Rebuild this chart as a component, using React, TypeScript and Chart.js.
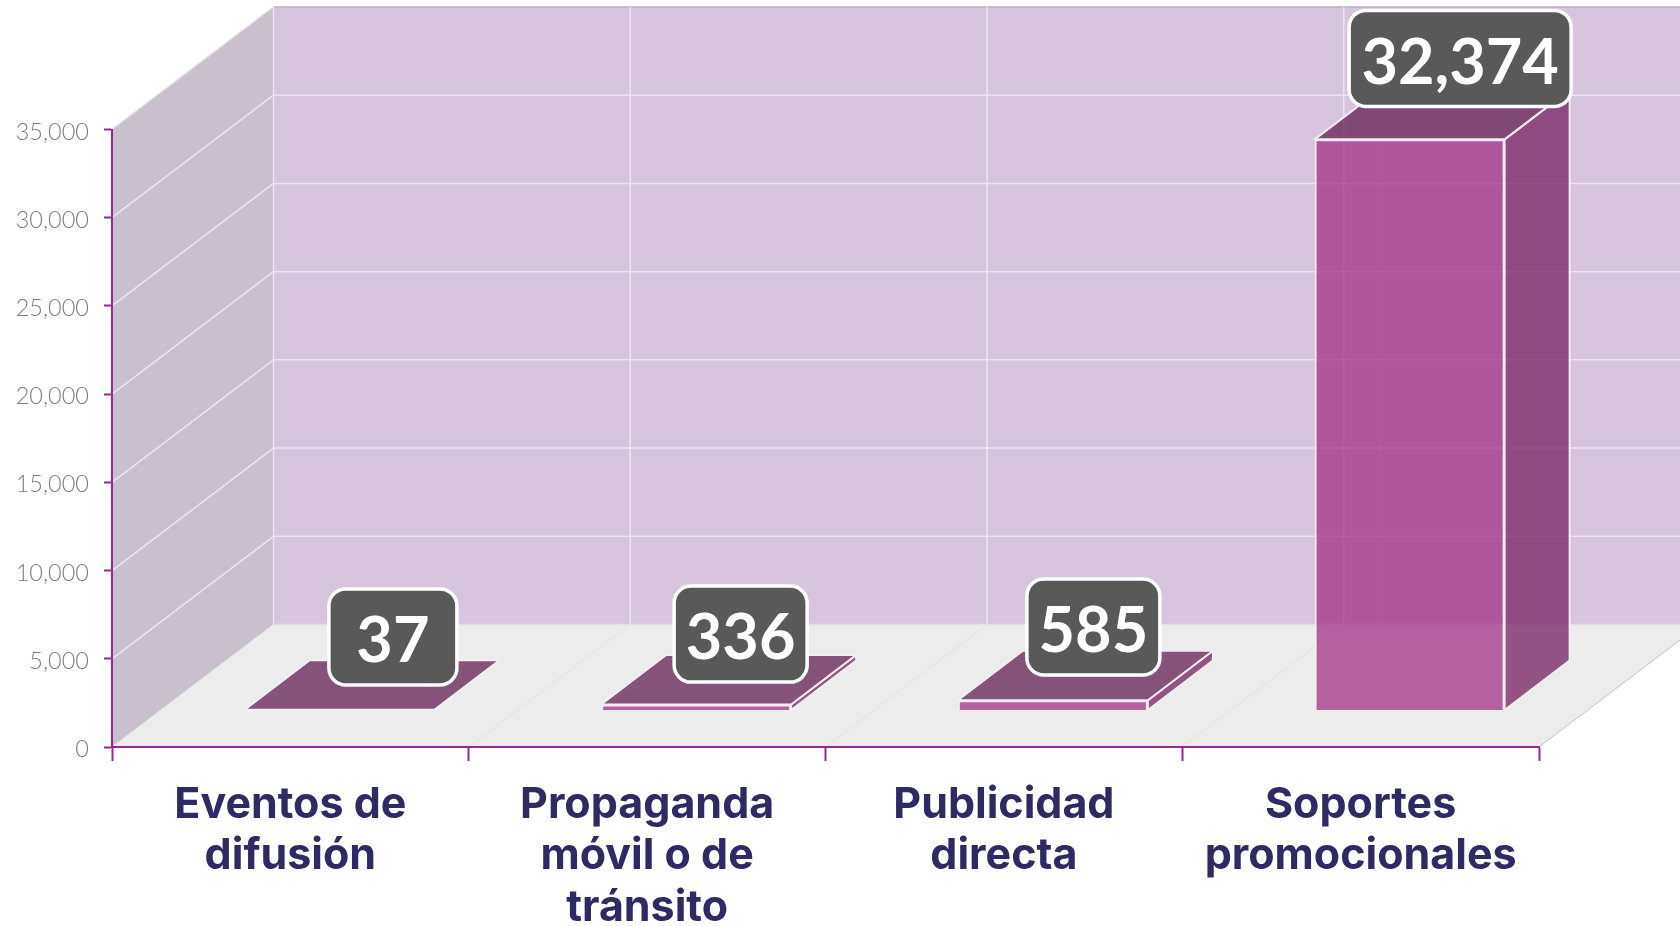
import React, { useEffect, useRef } from "react";
import { Chart, registerables } from "chart.js";

Chart.register(...registerables);

const categories = [
  ["Eventos de", "difusión"],
  ["Propaganda", "móvil o de", "tránsito"],
  ["Publicidad", "directa"],
  ["Soportes", "promocionales"],
];
const values = [37, 336, 585, 32374];
const yTicksMax = 35000;
const yStep = 5000;

// layout of the pseudo-3D drawing (pixels)
const WALL_DX = 161.5;
const WALL_DY = 122.5;
const BAR_SHIFT_X = 49;
const BAR_SHIFT_Y = 36.5;
const BAR_DX = 65;
const BAR_DY = 49.5;
const labelNudgeX = [21, 12, 8, 18];
const labelNudgeY = [-48.2, -45.7, -48.4, -56.2];
const labelBoxW = [131, 136, 136, 225];
const LABEL_BOX_H = 99;

const FONT = "Lato, 'Open Sans', sans-serif";
const CAT_FONT = "Inter, Lato, sans-serif";

function poly(ctx: CanvasRenderingContext2D, pts: number[][], fill?: string, stroke?: string, lw = 1) {
  ctx.beginPath();
  pts.forEach((p, i) => (i ? ctx.lineTo(p[0], p[1]) : ctx.moveTo(p[0], p[1])));
  ctx.closePath();
  if (fill) {
    ctx.fillStyle = fill;
    ctx.fill();
  }
  if (stroke) {
    ctx.strokeStyle = stroke;
    ctx.lineWidth = lw;
    ctx.lineJoin = "round";
    ctx.stroke();
  }
}
function line(ctx: CanvasRenderingContext2D, a: number[], b: number[], color: string, lw = 1) {
  ctx.beginPath();
  ctx.moveTo(a[0], a[1]);
  ctx.lineTo(b[0], b[1]);
  ctx.strokeStyle = color;
  ctx.lineWidth = lw;
  ctx.stroke();
}

const walls3d = {
  id: "walls3d",
  beforeDraw(chart: any) {
    const { ctx, chartArea: a, scales } = chart;
    const { left, right, top, bottom } = a;
    const dx = WALL_DX;
    const dy = WALL_DY;
    ctx.save();
    // back wall
    poly(ctx, [[left + dx, top - dy], [right + dx, top - dy], [right + dx, bottom - dy], [left + dx, bottom - dy]], "#d7c5dd");
    // side wall
    poly(ctx, [[left, top], [left + dx, top - dy], [left + dx, bottom - dy], [left, bottom]], "#c9bfcd");
    // floor
    poly(ctx, [[left, bottom], [left + dx, bottom - dy], [right + dx, bottom - dy], [right, bottom]], "#ececec");
    const gl = "#ebe4ee";
    const yS = scales.y;
    for (let v = 0; v <= yTicksMax; v += yStep) {
      const y = yS.getPixelForValue(v);
      if (v > 0) {
        line(ctx, [left, y], [left + dx, y - dy], v === yTicksMax ? "#dcdcdc" : gl, 1.5);
        line(ctx, [left + dx, y - dy], [right + dx, y - dy], v === yTicksMax ? "#b9aebd" : gl, 1.5);
      } else {
        line(ctx, [left, y], [left + dx, y - dy], "#e2e2e2", 1);
        line(ctx, [left + dx, y - dy], [right + dx, y - dy], "#e2dfe4", 1.5);
      }
    }
    const xS = scales.x;
    const n = categories.length;
    for (let i = 0; i <= n; i++) {
      const x = i < n ? xS.getPixelForValue(i) - (xS.getPixelForValue(1) - xS.getPixelForValue(0)) / 2 : right;
      if (i < n) line(ctx, [x + dx, top - dy], [x + dx, bottom - dy], gl, 1.5);
      if (i > 0) line(ctx, [x, bottom], [x + dx, bottom - dy], i === n ? "#c4c4c4" : "#e2e2e2", 1);
    }
    ctx.restore();
  },
  beforeDatasetDraw(chart: any, args: any) {
    const { ctx } = chart;
    ctx.save();
    ctx.translate(BAR_SHIFT_X, -BAR_SHIFT_Y);
    args.meta.data.forEach((bar: any) => {
      const l = bar.x - bar.width / 2;
      const r = bar.x + bar.width / 2;
      const t = bar.y;
      const b = bar.base;
      // hidden edges, faint through the faces
      line(ctx, [l + BAR_DX, t - BAR_DY], [l + BAR_DX, b - BAR_DY], "rgba(255,255,255,0.1)", 1.5);
      line(ctx, [l + BAR_DX, b - BAR_DY], [r + BAR_DX, b - BAR_DY], "rgba(255,255,255,0.08)", 1.5);
      line(ctx, [l, b], [l + BAR_DX, b - BAR_DY], "rgba(255,255,255,0.08)", 1.5);
      // right side
      poly(ctx, [[r, t], [r + BAR_DX, t - BAR_DY], [r + BAR_DX, b - BAR_DY], [r, b]], "rgba(118,31,95,0.74)", "#f3eef4", 2);
      // top
      poly(ctx, [[l, t], [r, t], [r + BAR_DX, t - BAR_DY], [l + BAR_DX, t - BAR_DY]], "rgba(100,28,80,0.74)", "#f3eef4", 2);
    });
  },
  afterDatasetDraw(chart: any) {
    chart.ctx.restore();
  },
  afterDraw(chart: any) {
    const { ctx } = chart;
    const meta = chart.getDatasetMeta(0);
    ctx.save();
    meta.data.forEach((bar: any, i: number) => {
      const cx = bar.x + BAR_SHIFT_X + BAR_DX / 2 + labelNudgeX[i];
      const cy = bar.y - BAR_SHIFT_Y - BAR_DY / 2 + labelNudgeY[i];
      const w = labelBoxW[i];
      const h = LABEL_BOX_H;
      ctx.beginPath();
      ctx.roundRect(cx - w / 2 + 1.5, cy - h / 2 + 1.5, w - 3, h - 3, 17);
      ctx.fillStyle = "#595959";
      ctx.fill();
      ctx.strokeStyle = "#ffffff";
      ctx.lineWidth = 3.5;
      ctx.stroke();
      ctx.fillStyle = "#ffffff";
      ctx.font = `700 63px ${FONT}`;
      ctx.textAlign = "center";
      ctx.textBaseline = "middle";
      ctx.fillText(values[i].toLocaleString("en-US"), cx, cy + 5);
    });
    ctx.restore();
  },
};

export default function App() {
  const ref = useRef<HTMLCanvasElement>(null);
  useEffect(() => {
    document.body.style.margin = "0";
    const chart = new Chart(ref.current as HTMLCanvasElement, {
      type: "bar",
      data: {
        labels: categories,
        datasets: [
          {
            data: values,
            backgroundColor: "rgba(162,48,133,0.74)",
            borderColor: "#f3eef4",
            borderWidth: 2,
            barPercentage: 190 / 356.75,
            categoryPercentage: 1,
            clip: false,
          },
        ],
      } as any,
      options: {
        animation: false,
        responsive: false,
        layout: { padding: { top: 129.5, right: 141, left: 0, bottom: 0 } },
        plugins: { legend: { display: false }, tooltip: { enabled: false } },
        scales: {
          x: {
            afterFit(s: any) {
              s.height = 179;
            },
            border: { color: "#93288f", width: 2 },
            grid: { drawOnChartArea: false, color: "#93288f", tickColor: "#93288f", tickLength: 14, tickWidth: 2 },
            ticks: {
              color: "#2e2a63",
              font: { family: CAT_FONT, size: 43, weight: "bold", lineHeight: 51.5 / 43 },
              padding: 18,
              maxRotation: 0,
              autoSkip: false,
            },
          },
          y: {
            min: 0,
            max: yTicksMax,
            afterFit(s: any) {
              s.width = 112;
            },
            border: { color: "#93288f", width: 2 },
            grid: { drawOnChartArea: false, color: "#93288f", tickColor: "#93288f", tickLength: 8, tickWidth: 2 },
            ticks: {
              stepSize: yStep,
              color: "#7d7d7d",
              font: { family: FONT, size: 23.5, weight: "300" },
              padding: 15,
              labelOffset: 2.5,
              callback: (v: any) => Number(v).toLocaleString("en-US"),
            },
          },
        },
      },
      plugins: [walls3d],
    } as any);
    return () => chart.destroy();
  }, []);
  return (
    <div style={{ width: 1680, height: 926, overflow: "hidden" }}>
      <canvas ref={ref} width={1680} height={926} style={{ display: "block" }} />
    </div>
  );
}
